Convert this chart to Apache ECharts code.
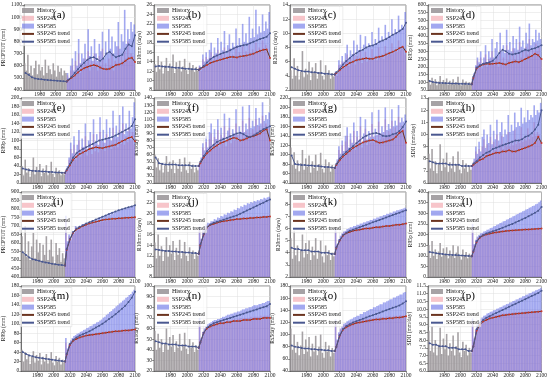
<!DOCTYPE html>
<html><head><meta charset="utf-8">
<script src="https://cdn.jsdelivr.net/npm/echarts@6/dist/echarts.min.js"></script>
<style>html,body{margin:0;padding:0;background:#fff}#c{width:550px;height:380px}</style>
</head><body><div id="c"></div>
<script>
// ---- categories (years) ----
const histYears = [1961,1963,1965,1967,1969,1971,1973,1975,1977,1979,1981,1983,1985,1987,1989,1991,1993,1995,1997,1999,2001,2003,2005,2007,2009,2011,2013];
const futYears = [2015,2017,2019,2021,2023,2025,2027,2029,2031,2033,2035,2037,2039,2041,2043,2045,2047,2049,2051,2053,2055,2057,2059,2061,2063,2065,2067,2069,2071,2073,2075,2077,2079,2081,2083,2085,2087,2089,2091,2093,2095,2097,2099];
const tHistYears = [1962,1966,1970,1974,1978,1982,1986,1990,1994,1998,2002,2006,2010,2014];
const tFutYears = [2016,2020,2024,2028,2032,2036,2040,2044,2048,2052,2056,2060,2064,2068,2072,2076,2080,2084,2088,2092,2096,2100];
const xTicks = [1960,1980,2000,2020,2040,2060,2080,2100];

// ---- (a) PRCPTOT ----
const a_hist = [620,560,690,540,600,520,580,640,530,610,560,590,520,650,540,600,570,530,620,560,510,600,550,580,520,560,540];
const a_s245 = [520,470,560,600,510,640,560,700,540,620,580,660,600,720,560,640,590,700,620,560,680,600,740,560,620,580,660,600,700,560,640,620,760,600,680,640,720,660,800,640,700,680,660];
const a_s585 = [540,500,600,660,560,720,600,820,620,700,660,780,640,900,680,760,640,820,700,640,780,720,880,660,800,700,900,740,840,700,800,760,960,740,860,800,1060,780,900,820,960,880,940];
const a_thist = [540,525,505,495,490,488,485,482,480,478,476,474,472,470];
const a_t245 = [480,500,520,545,565,580,590,600,605,600,585,575,570,575,590,605,610,620,640,660,665,630];
const a_t585 = [485,510,540,570,600,625,650,665,670,655,640,660,700,715,690,670,680,690,740,775,760,850];
// ---- (b) R10mm ----
const b_hist = [13.5,11.8,15.2,12.4,14.0,11.5,13.2,14.8,12.0,13.6,12.8,15.5,11.6,13.9,12.5,14.2,11.9,13.0,14.6,12.2,11.4,13.8,12.6,13.3,11.8,12.9,12.1];
const b_s245 = [13.0,12.0,14.5,13.2,15.0,13.5,14.8,16.0,13.8,15.5,14.2,16.5,14.0,15.8,14.6,17.0,14.4,15.2,16.8,14.6,15.5,14.8,17.2,15.0,16.0,14.8,17.5,15.4,16.2,15.0,17.8,15.8,16.6,15.6,18.0,16.2,17.0,16.4,18.5,16.8,17.6,16.2,15.0];
const b_s585 = [13.2,12.5,15.5,14.0,16.0,14.5,16.5,18.0,15.0,17.0,15.8,19.0,15.6,18.2,16.4,20.5,16.2,17.5,19.8,16.8,18.0,17.2,21.0,17.5,19.0,17.6,22.0,18.2,20.0,18.0,23.5,19.0,21.0,19.2,25.0,19.8,21.5,20.2,24.0,20.5,22.5,21.0,24.5];
const b_thist = [13.0,13.1,13.0,12.9,12.9,12.8,12.7,12.7,12.6,12.5,12.5,12.4,12.4,12.3];
const b_t245 = [12.5,12.9,13.3,13.7,14.0,14.2,14.4,14.6,14.8,15.0,15.0,14.9,15.1,15.2,15.3,15.5,15.7,16.0,16.3,16.5,16.6,14.8];
const b_t585 = [12.6,13.1,13.8,14.5,15.0,15.3,15.6,15.9,16.1,16.4,16.8,17.1,17.3,17.5,17.6,17.9,18.2,18.5,18.8,19.0,19.3,20.0];
// ---- (c) R20mm ----
const c_hist = [4.8,3.6,6.5,4.0,5.4,3.5,4.6,7.5,3.8,5.0,4.2,6.0,3.4,5.2,4.4,5.8,3.6,4.5,6.2,4.0,3.5,5.5,4.2,4.8,3.6,4.4,3.9];
const c_s245 = [4.5,4.0,5.5,5.0,6.0,5.2,6.2,7.0,5.4,6.4,5.8,7.2,5.6,6.8,6.0,7.6,5.8,6.4,7.4,6.0,6.6,6.2,7.8,6.2,6.8,6.2,8.0,6.6,7.0,6.4,8.2,6.8,7.4,7.0,8.6,7.2,7.8,7.4,9.0,7.6,8.2,7.8,7.0];
const c_s585 = [4.6,4.4,6.2,5.6,6.8,6.0,7.2,8.4,6.4,7.6,7.0,9.0,7.0,8.4,7.6,9.8,7.6,8.4,9.6,8.0,8.6,8.2,10.2,8.4,9.2,8.6,10.8,9.0,9.6,9.0,11.2,9.4,10.2,9.6,12.0,9.8,10.6,10.2,12.5,10.6,11.2,10.8,13.0];
const c_thist = [5.2,5.0,4.8,4.7,4.6,4.6,4.5,4.5,4.4,4.4,4.3,4.3,4.2,4.2];
const c_t245 = [4.4,4.8,5.2,5.5,5.8,6.0,6.2,6.3,6.4,6.5,6.4,6.4,6.6,6.7,6.8,7.0,7.2,7.4,7.6,7.9,8.1,7.4];
const c_t585 = [4.5,5.0,5.6,6.1,6.5,6.9,7.2,7.5,7.7,8.0,8.2,8.3,8.5,8.8,9.0,9.2,9.5,9.8,10.0,10.3,10.6,11.5];
// ---- (d) R95p ----
const d_hist = [110,85,130,95,120,80,105,140,90,115,100,125,85,110,95,120,88,100,135,92,80,118,96,105,85,100,90];
const d_s245 = [120,150,200,240,210,260,190,230,280,200,250,220,300,210,240,270,200,310,230,260,220,340,240,280,230,320,250,290,240,360,260,300,250,330,280,380,270,310,290,350,300,330,260];
const d_s585 = [125,160,210,260,230,300,210,260,340,230,300,260,380,260,320,360,280,420,300,340,290,440,310,360,300,400,320,380,310,460,330,370,320,420,350,480,340,380,360,440,370,420,380];
const d_thist = [108,102,98,96,95,94,93,92,92,91,90,90,89,88];
const d_t245 = [130,190,205,215,220,218,220,222,225,220,215,225,230,235,230,240,250,260,270,285,275,250];
const d_t585 = [135,195,210,220,225,230,240,260,290,310,300,285,280,285,290,300,310,305,315,320,330,340];
// ---- (e) R99p ----
const e_hist = [40,18,55,25,35,15,30,60,20,38,26,45,16,34,24,42,18,28,50,22,14,36,24,30,18,26,20];
const e_s245 = [28,35,55,80,60,90,55,75,100,62,85,70,110,65,80,95,68,115,75,90,72,120,78,95,76,115,82,100,80,130,86,105,84,125,92,140,90,110,96,130,100,120,90];
const e_s585 = [30,40,60,95,70,110,65,90,125,75,105,85,140,80,100,120,85,150,95,115,90,155,100,125,95,150,105,130,100,170,110,135,108,160,118,180,115,140,122,170,128,155,190];
const e_thist = [34,32,30,29,28,28,27,27,26,26,25,25,24,24];
const e_t245 = [30,42,55,62,68,72,76,80,82,84,83,82,84,86,88,90,94,98,102,106,108,98];
const e_t585 = [32,45,60,70,76,80,84,88,92,96,100,102,104,106,108,112,116,120,124,128,134,150];
// ---- (f) Rx1day ----
const f_hist = [60,42,55,38,48,35,45,58,36,50,40,52,34,46,40,54,36,44,56,38,34,50,40,46,35,42,38];
const f_s245 = [46,52,70,60,78,64,82,90,68,85,74,95,70,88,76,100,72,84,98,76,86,80,104,80,90,82,108,84,94,86,112,88,96,90,110,92,100,94,115,96,104,98,84];
const f_s585 = [48,56,76,66,86,70,92,104,74,96,82,110,78,98,84,118,80,94,112,86,96,90,124,88,100,92,128,92,104,96,130,98,108,100,126,102,112,104,134,108,116,110,120];
const f_thist = [56,48,47,46,46,46,46,45,45,45,45,44,44,44];
const f_t245 = [48,56,62,66,70,73,76,78,80,82,84,83,80,81,83,85,86,88,90,94,96,80];
const f_t585 = [50,58,65,70,74,78,80,82,84,86,88,90,91,89,86,85,87,90,93,96,98,100];
// ---- (g) Rx5day ----
const g_hist = [115,78,105,70,88,65,82,110,68,92,74,98,62,86,72,100,66,80,104,70,62,90,74,84,64,78,70];
const g_s245 = [75,85,110,95,120,100,128,140,108,132,115,150,110,138,120,160,115,132,155,120,135,125,165,125,140,130,170,132,145,135,175,138,150,140,172,145,158,148,180,150,162,155,130];
const g_s585 = [78,90,118,102,130,108,140,158,115,145,125,168,120,150,130,180,125,145,175,132,150,138,190,138,155,142,195,145,160,148,200,152,165,155,196,160,172,162,205,168,178,170,185];
const g_thist = [98,80,79,78,78,77,77,76,76,75,74,74,73,72];
const g_t245 = [78,88,96,102,108,114,118,122,126,128,130,131,128,125,126,128,130,132,138,146,150,125];
const g_t585 = [80,92,100,106,112,118,124,130,136,140,143,145,146,144,140,139,140,143,145,150,158,170];
// ---- (h) SDII ----
const h_hist = [8.4,7.2,8.8,7.0,7.8,6.8,7.6,9.2,7.0,8.0,7.3,8.5,6.9,7.7,7.2,8.2,6.9,7.5,8.6,7.1,6.8,7.9,7.2,7.6,6.9,7.4,7.1];
const h_s245 = [7.4,7.8,8.6,8.0,8.8,8.2,9.0,9.6,8.3,9.2,8.6,9.8,8.4,9.4,8.7,10.0,8.6,9.2,9.9,8.8,9.3,9.0,10.2,9.0,9.5,9.1,10.4,9.2,9.6,9.3,10.6,9.4,9.8,9.5,10.5,9.6,10.0,9.8,11.0,9.9,10.2,10.0,9.4];
const h_s585 = [7.5,8.0,9.0,8.4,9.4,8.6,9.8,10.4,8.9,10.0,9.3,10.8,9.2,10.3,9.6,11.2,9.5,10.2,11.0,9.8,10.4,10.0,11.6,10.2,10.8,10.3,11.8,10.6,11.0,10.7,12.2,10.9,11.4,11.0,12.0,11.2,11.6,11.4,12.4,11.6,12.0,11.8,12.6];
const h_thist = [7.8,7.7,7.6,7.6,7.6,7.6,7.5,7.5,7.5,7.5,7.4,7.4,7.4,7.4];
const h_t245 = [7.5,7.7,7.9,8.0,8.2,8.3,8.4,8.5,8.5,8.6,8.6,8.7,8.6,8.6,8.7,8.8,8.9,9.0,9.1,9.3,9.8,9.3];
const h_t585 = [7.6,7.8,8.1,8.3,8.5,8.6,8.8,8.9,9.0,9.1,9.2,9.3,9.4,9.5,9.5,9.6,9.8,9.9,10.1,10.4,10.8,12.0];
// ---- (i) PRCPTOT ----
const i_hist = [640,540,700,520,610,500,580,660,510,620,545,600,495,590,530,640,500,560,620,520,480,600,530,570,490,540,510];
const i_s245 = [740,600,640,610,660,650,690,670,690,680,700,695,705,700,712,705,718,712,722,716,726,720,730,724,733,728,736,731,739,734,741,737,743,739,745,741,747,743,749,745,750,747,752];
const i_s585 = [760,610,650,620,670,660,700,680,700,690,710,705,716,712,724,718,732,726,740,734,748,742,756,750,764,758,772,766,780,774,788,782,795,790,800,796,806,802,812,808,818,814,822];
const i_thist = [545,530,515,505,500,495,490,486,482,478,475,472,470,468];
const i_t245 = [560,620,660,680,690,700,708,715,720,725,730,735,738,740,742,743,745,746,748,749,750,752];
const i_t585 = [565,625,665,685,695,705,714,722,730,738,746,754,762,770,778,785,792,798,804,810,815,822];
// ---- (j) R10mm ----
const j_hist = [14.5,11.5,16.0,12.0,13.8,11.0,13.0,15.5,11.8,14.0,12.4,14.8,11.2,13.5,12.2,15.0,11.5,12.8,14.6,12.0,11.0,13.6,12.3,13.0,11.4,12.6,12.0];
const j_s245 = [17.0,15.0,16.5,17.2,17.5,17.8,17.7,18.1,18.0,18.3,18.2,18.5,18.4,18.6,18.5,18.8,18.6,18.9,18.7,19.0,18.8,19.1,18.9,19.1,19.0,19.2,19.0,19.3,19.1,19.3,19.2,19.4,19.2,19.4,19.3,19.5,19.3,19.5,19.4,19.6,19.4,19.6,19.5];
const j_s585 = [17.5,15.2,16.8,17.5,17.9,18.2,18.1,18.5,18.5,18.9,18.8,19.2,19.1,19.5,19.4,19.8,19.7,20.1,20.0,20.4,20.3,20.7,20.6,21.0,20.9,21.3,21.2,21.6,21.5,21.9,21.8,22.1,22.0,22.3,22.2,22.5,22.4,22.7,22.6,22.9,22.8,23.0,23.1];
const j_thist = [13.2,13.1,13.0,12.9,12.9,12.8,12.8,12.7,12.7,12.6,12.6,12.5,12.5,12.4];
const j_t245 = [14.0,16.0,17.3,17.8,18.0,18.2,18.4,18.5,18.6,18.7,18.8,18.9,18.9,19.0,19.0,19.1,19.1,19.2,19.2,19.3,19.3,19.4];
const j_t585 = [14.1,16.1,17.4,17.9,18.2,18.4,18.6,18.8,19.0,19.2,19.4,19.6,19.9,20.2,20.5,20.8,21.1,21.4,21.7,22.0,22.3,22.6];
// ---- (k) R20mm ----
const k_hist = [5.2,3.5,5.8,3.8,4.6,3.3,4.2,5.5,3.6,4.8,3.9,5.0,3.4,4.5,3.8,5.2,3.5,4.1,5.0,3.7,3.2,4.6,3.8,4.2,3.4,4.0,3.7];
const k_s245 = [5.8,4.6,5.0,5.3,5.5,5.7,5.6,5.8,5.75,5.9,5.85,5.95,5.9,6.0,5.95,6.05,6.0,6.1,6.05,6.1,6.08,6.15,6.1,6.2,6.15,6.2,6.18,6.25,6.2,6.25,6.22,6.3,6.27,6.3,6.32,6.35,6.3,6.36,6.4,6.37,6.42,6.4,6.45];
const k_s585 = [6.0,4.7,5.1,5.4,5.6,5.75,5.8,5.95,6.0,6.1,6.1,6.2,6.2,6.3,6.3,6.4,6.4,6.5,6.5,6.6,6.6,6.7,6.7,6.8,6.8,6.9,6.9,7.0,7.0,7.1,7.1,7.2,7.2,7.3,7.3,7.4,7.4,7.5,7.5,7.55,7.6,7.65,7.7];
const k_thist = [4.4,4.3,4.3,4.2,4.2,4.2,4.1,4.1,4.1,4.0,4.0,4.0,3.9,3.9];
const k_t245 = [4.4,5.0,5.4,5.6,5.7,5.8,5.85,5.9,5.95,6.0,6.0,6.05,6.1,6.1,6.15,6.2,6.2,6.25,6.3,6.3,6.35,6.4];
const k_t585 = [4.45,5.05,5.45,5.65,5.8,5.9,6.0,6.1,6.2,6.3,6.4,6.5,6.6,6.7,6.8,6.9,7.0,7.1,7.2,7.3,7.4,7.5];
// ---- (l) R95p ----
const l_hist = [150,90,170,100,130,85,120,160,95,135,105,140,88,125,100,150,90,115,145,98,82,130,102,118,88,110,96];
const l_s245 = [230,150,170,185,192,198,200,205,206,210,210,214,214,217,216,219,218,221,220,222,221,224,222,225,223,226,224,227,225,227,226,228,227,229,227,230,228,230,229,231,229,232,230];
const l_s585 = [250,155,175,190,198,206,208,214,216,222,224,230,232,238,240,246,248,254,256,262,264,270,272,278,280,286,288,294,296,302,304,310,312,318,320,326,328,334,336,342,345,352,360];
const l_thist = [118,115,112,110,108,106,105,104,103,102,101,100,99,98];
const l_t245 = [120,165,185,195,200,204,207,210,212,214,216,218,219,220,221,222,223,224,225,226,227,228];
const l_t585 = [122,168,188,198,205,210,215,220,226,232,238,244,250,257,264,271,278,286,294,302,312,330];
// ---- (m) R99p ----
const m_hist = [45,20,40,25,35,15,30,42,18,34,22,38,14,30,20,36,16,26,40,18,12,32,20,28,14,24,18];
const m_s245 = [60,45,55,62,66,69,70,72,72,74,74,76,76,78,77,79,79,80,80,81,81,82,82,83,83,84,84,85,84,86,85,86,86,87,86,88,87,88,88,89,88,90,89];
const m_s585 = [70,48,58,65,70,74,76,79,80,83,84,87,88,91,92,95,96,99,100,103,104,107,109,113,115,119,121,125,127,131,133,137,139,143,145,149,151,155,157,161,163,168,172];
const m_thist = [40,36,33,31,29,28,27,26,25,24,23,22,21,20];
const m_t245 = [35,55,64,68,71,73,75,76,77,78,79,80,81,82,83,84,84,85,86,86,87,88];
const m_t585 = [36,57,66,71,75,78,81,84,88,92,96,100,105,110,115,120,126,132,138,146,155,168];
// ---- (n) Rx1day ----
const n_hist = [58,40,55,42,50,38,46,60,40,52,43,54,38,48,42,55,39,45,56,41,36,50,42,47,38,44,40];
const n_s245 = [66,50,56,59,61,62,63,64,64,65,65,66,66,67,66,67,67,68,67,68,68,69,68,69,69,70,69,70,70,70,70,71,70,71,71,71,71,72,71,72,72,72,72];
const n_s585 = [70,51,57,60,62,64,65,66,67,68,68,69,69,70,71,71,72,73,73,74,74,75,75,76,76,77,78,78,79,79,80,80,81,82,82,82,83,83,84,84,85,86,86];
const n_thist = [48,47,46,46,45,45,45,44,44,44,43,43,43,42];
const n_t245 = [47,56,60,62,63,64,65,65,66,66,67,67,67,68,68,68,69,69,69,70,70,70];
const n_t585 = [47,56,61,63,65,66,67,68,69,70,71,72,73,74,75,76,77,78,79,80,81,83];
// ---- (o) Rx5day ----
const o_hist = [110,75,100,70,88,66,82,105,68,92,72,96,64,85,72,98,66,80,100,70,62,88,72,82,64,78,70];
const o_s245 = [120,90,102,108,111,115,116,118,118,120,120,122,122,123,123,124,124,125,125,126,125,127,126,127,127,128,127,129,128,129,128,130,129,130,129,131,130,131,130,132,131,132,131];
const o_s585 = [125,92,104,110,114,118,119,122,123,125,126,128,129,131,131,134,134,137,137,139,140,142,142,145,145,147,148,150,150,153,153,155,156,158,158,161,161,163,164,166,166,169,170];
const o_thist = [82,80,79,78,77,77,76,76,75,75,74,74,73,73];
const o_t245 = [80,98,108,112,115,117,119,120,121,122,123,124,125,125,126,126,127,127,128,128,129,130];
const o_t585 = [80,99,109,114,117,120,122,124,126,128,130,132,134,136,138,140,142,144,146,148,151,155];
// ---- (p) SDII ----
const p_hist = [8.6,7.3,8.9,7.2,8.0,7.0,7.7,8.8,7.1,8.1,7.4,8.4,7.0,7.8,7.3,8.3,7.0,7.6,8.5,7.2,6.9,7.9,7.3,7.7,7.0,7.5,7.2];
const p_s245 = [9.2,8.0,8.6,8.9,9.1,9.25,9.3,9.4,9.4,9.48,9.5,9.55,9.55,9.6,9.6,9.64,9.64,9.68,9.68,9.72,9.71,9.74,9.73,9.76,9.75,9.78,9.77,9.8,9.79,9.82,9.81,9.84,9.83,9.86,9.85,9.87,9.86,9.88,9.87,9.89,9.88,9.9,9.9];
const p_s585 = [9.4,8.1,8.7,9.0,9.2,9.4,9.45,9.58,9.6,9.72,9.75,9.83,9.85,9.93,9.95,10.03,10.05,10.13,10.15,10.23,10.25,10.33,10.35,10.43,10.45,10.53,10.55,10.63,10.65,10.73,10.75,10.83,10.85,10.93,10.95,11.03,11.05,11.13,11.15,11.23,11.25,11.3,11.38];
const p_thist = [7.8,7.7,7.7,7.6,7.6,7.6,7.5,7.5,7.5,7.4,7.4,7.4,7.3,7.3];
const p_t245 = [7.6,8.6,9.0,9.2,9.3,9.4,9.45,9.5,9.55,9.6,9.62,9.65,9.68,9.7,9.72,9.74,9.76,9.78,9.8,9.82,9.84,9.86];
const p_t585 = [7.6,8.7,9.1,9.3,9.45,9.55,9.65,9.75,9.85,9.95,10.05,10.15,10.25,10.35,10.45,10.55,10.65,10.75,10.85,10.95,11.05,11.2];

const panels = [
 {lab:'(a)', y:'PRCPTOT (mm)', min:400, max:1100, step:100, h:a_hist, s2:a_s245, s5:a_s585, th:a_thist, t2:a_t245, t5:a_t585},
 {lab:'(b)', y:'R10mm (days)', min:8, max:26, step:2, h:b_hist, s2:b_s245, s5:b_s585, th:b_thist, t2:b_t245, t5:b_t585},
 {lab:'(c)', y:'R20mm (days)', min:2, max:14, step:2, h:c_hist, s2:c_s245, s5:c_s585, th:c_thist, t2:c_t245, t5:c_t585},
 {lab:'(d)', y:'R95p (mm)', min:50, max:600, step:50, h:d_hist, s2:d_s245, s5:d_s585, th:d_thist, t2:d_t245, t5:d_t585},
 {lab:'(e)', y:'R99p (mm)', min:0, max:200, step:20, h:e_hist, s2:e_s245, s5:e_s585, th:e_thist, t2:e_t245, t5:e_t585},
 {lab:'(f)', y:'Rx1day (mm)', min:20, max:140, step:10, h:f_hist, s2:f_s245, s5:f_s585, th:f_thist, t2:f_t245, t5:f_t585},
 {lab:'(g)', y:'Rx5day (mm)', min:40, max:220, step:20, h:g_hist, s2:g_s245, s5:g_s585, th:g_thist, t2:g_t245, t5:g_t585},
 {lab:'(h)', y:'SDII (mm/day)', min:6, max:13, step:1, h:h_hist, s2:h_s245, s5:h_s585, th:h_thist, t2:h_t245, t5:h_t585},
 {lab:'(i)', y:'PRCPTOT (mm)', min:400, max:900, step:50, h:i_hist, s2:i_s245, s5:i_s585, th:i_thist, t2:i_t245, t5:i_t585},
 {lab:'(j)', y:'R10mm (days)', min:8, max:24, step:2, h:j_hist, s2:j_s245, s5:j_s585, th:j_thist, t2:j_t245, t5:j_t585},
 {lab:'(k)', y:'R20mm (days)', min:2, max:9, step:1, h:k_hist, s2:k_s245, s5:k_s585, th:k_thist, t2:k_t245, t5:k_t585},
 {lab:'(l)', y:'R95p (mm)', min:0, max:400, step:50, h:l_hist, s2:l_s245, s5:l_s585, th:l_thist, t2:l_t245, t5:l_t585},
 {lab:'(m)', y:'R99p (mm)', min:0, max:180, step:20, h:m_hist, s2:m_s245, s5:m_s585, th:m_thist, t2:m_t245, t5:m_t585},
 {lab:'(n)', y:'Rx1day (mm)', min:20, max:100, step:10, h:n_hist, s2:n_s245, s5:n_s585, th:n_thist, t2:n_t245, t5:n_t585},
 {lab:'(o)', y:'Rx5day (mm)', min:40, max:180, step:20, h:o_hist, s2:o_s245, s5:o_s585, th:o_thist, t2:o_t245, t5:o_t585},
 {lab:'(p)', y:'SDII (mm/day)', min:6, max:11.5, step:0.5, h:p_hist, s2:p_s245, s5:p_s585, th:p_thist, t2:p_t245, t5:p_t585}
];

const FONT = '"Liberation Serif", "Times New Roman", serif';
const cols = [19, 154, 290, 428], rows = [5, 98, 192, 286], W = 116, H = 85;
const grid = [], xAxis = [], yAxis = [], series = [], legend = [], graphic = [];
const C_HIST = 'rgba(150,146,149,0.85)', C_245 = 'rgba(240,140,150,0.5)', C_585 = 'rgba(100,110,230,0.6)';
const L_245 = '#6b3420', M_245 = '#c83a30', L_585 = '#4a5890';

panels.forEach((p, k) => {
  const L = cols[k % 4], T = rows[Math.floor(k / 4)];
  const maxLabLen = Math.max(String(p.max).length, String(p.min).length, p.step < 1 ? 4 : 0);
  grid.push({left: L, top: T, width: W, height: H, show: true, borderColor: '#333', borderWidth: 0.6, backgroundColor: '#fff'});
  xAxis.push({type: 'value', gridIndex: k, min: xTicks[0], max: xTicks[xTicks.length - 1], interval: 20,
    axisLabel: {fontSize: 5.5, fontFamily: FONT, color: '#222', margin: 2, showMinLabel: false, formatter: v => String(v)},
    axisLine: {onZero: false, lineStyle: {color: '#333', width: 0.6}},
    axisTick: {length: 2, lineStyle: {width: 0.5, color: '#333'}},
    splitLine: {show: true, lineStyle: {color: '#dedede', width: 0.5}}});
  yAxis.push({type: 'value', gridIndex: k, min: p.min, max: p.max, interval: p.step,
    name: p.y, nameLocation: 'middle', nameGap: maxLabLen * 2.8 + 4,
    nameTextStyle: {fontSize: 5.5, fontFamily: FONT, color: '#222'},
    axisLabel: {fontSize: 5.5, fontFamily: FONT, color: '#222', margin: 2,
      formatter: v => p.step < 1 ? v.toFixed(1) : String(v)},
    axisLine: {show: true, onZero: false, lineStyle: {color: '#333', width: 0.6}},
    axisTick: {show: true, length: 2, lineStyle: {width: 0.5, color: '#333'}},
    splitLine: {show: true, lineStyle: {color: '#dedede', width: 0.5}}});
  const common = {xAxisIndex: k, yAxisIndex: k, silent: true, animation: false};
  series.push(Object.assign({type: 'bar', name: 'History', barWidth: 1.6, barGap: '-100%',
    itemStyle: {color: C_HIST}, data: histYears.map((y, i) => [y, p.h[i]])}, common));
  series.push(Object.assign({type: 'bar', name: 'SSP245', barWidth: 1.6, barGap: '-100%',
    itemStyle: {color: C_245}, data: futYears.map((y, i) => [y, p.s2[i]])}, common));
  series.push(Object.assign({type: 'bar', name: 'SSP585', barWidth: 1.6, barGap: '-100%',
    itemStyle: {color: C_585}, data: futYears.map((y, i) => [y, p.s5[i]])}, common));
  const last = [tHistYears[tHistYears.length - 1], p.th[p.th.length - 1]];
  series.push(Object.assign({type: 'line', name: 'SSP585 trend', symbol: 'circle', symbolSize: 2,
    lineStyle: {color: L_585, width: 1}, itemStyle: {color: L_585},
    data: tHistYears.map((y, i) => [y, p.th[i]])}, common));
  series.push(Object.assign({type: 'line', name: 'SSP245 trend', symbol: 'circle', symbolSize: 2,
    lineStyle: {color: L_245, width: 1}, itemStyle: {color: M_245},
    data: [last].concat(tFutYears.map((y, i) => [y, p.t2[i]]))}, common));
  series.push(Object.assign({type: 'line', name: 'SSP585 trend', symbol: 'circle', symbolSize: 2,
    lineStyle: {color: L_585, width: 1}, itemStyle: {color: L_585},
    data: [last].concat(tFutYears.map((y, i) => [y, p.t5[i]]))}, common));
  legend.push({left: L + 1, top: T + 1.5, orient: 'vertical', itemWidth: 12, itemHeight: 5, itemGap: 1.8,
    padding: [1, 2, 1, 1], backgroundColor: 'rgba(255,255,255,0.75)', borderColor: '#cfcfcf', borderWidth: 0.4,
    textStyle: {fontSize: 6, lineHeight: 6, fontFamily: FONT, color: '#111', padding: [0, 0, 0, -2]}, selectedMode: false,
    data: [{name: 'History', icon: 'rect'}, {name: 'SSP245', icon: 'rect'}, {name: 'SSP585', icon: 'rect'},
      {name: 'SSP245 trend', itemStyle: {opacity: 0}}, {name: 'SSP585 trend', itemStyle: {opacity: 0}}]});
  graphic.push({type: 'text', left: L + 34, top: T + 5, z: 100,
    style: {text: p.lab, font: '11px "Liberation Serif"', fill: '#000'}});
});

const chart = echarts.init(document.getElementById('c'), null, {renderer: 'canvas'});
chart.setOption({animation: false, backgroundColor: '#fff', grid, xAxis, yAxis, series, legend, graphic});
</script></body></html>
